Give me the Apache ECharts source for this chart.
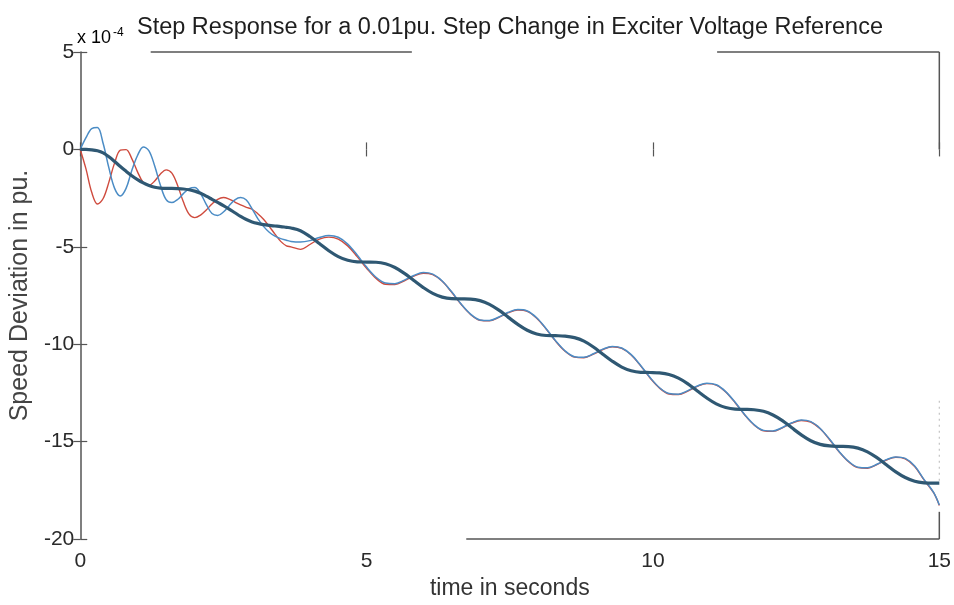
<!DOCTYPE html>
<html><head><meta charset="utf-8">
<script src="https://cdn.jsdelivr.net/npm/echarts@6/dist/echarts.min.js"></script>
<style>html,body{margin:0;padding:0;background:#fff}#c{width:954px;height:605px}</style>
</head><body><div id="c"></div>
<script>
// time in seconds
const time = [0,0.1,0.2,0.3,0.4,0.5,0.6,0.7,0.8,0.9,1,1.1,1.2,1.3,1.4,1.5,1.6,1.7,1.8,1.9,2,2.1,2.2,2.3,2.4,2.5,2.6,2.7,2.8,2.9,3,3.1,3.2,3.3,3.4,3.5,3.6,
3.68,3.845,4.01,4.175,4.34,4.505,4.67,4.835,5.0,5.165,5.33,5.495,5.66,5.825,5.99,6.155,6.32,6.485,6.65,6.815,6.98,7.145,7.31,7.475,7.64,7.805,7.97,8.135,8.3,8.465,8.63,8.795,8.96,9.125,9.29,9.455,9.62,9.785,9.95,10.115,10.28,10.445,10.61,10.775,10.94,11.105,11.27,11.435,11.6,11.765,11.93,12.095,12.26,12.425,12.59,12.755,12.92,13.085,13.25,13.415,13.58,13.745,13.91,14.075,14.24,14.405,14.57,14.735,14.9,15.0];
// speed deviation (x 1e-4 pu)
const thick = [0,0,-0.02,-0.07,-0.18,-0.38,-0.62,-0.88,-1.12,-1.35,-1.55,-1.72,-1.85,-1.94,-1.99,-2.0,-2.0,-2.01,-2.03,-2.07,-2.14,-2.25,-2.4,-2.56,-2.72,-2.88,-3.06,-3.25,-3.44,-3.6,-3.72,-3.8,-3.86,-3.9,-3.93,-3.96,-4.0,
-4.03,-4.17,-4.47,-4.83,-5.2,-5.5,-5.69,-5.77,-5.78,-5.79,-5.87,-6.06,-6.36,-6.73,-7.09,-7.39,-7.58,-7.66,-7.67,-7.68,-7.76,-7.95,-8.25,-8.62,-8.98,-9.28,-9.47,-9.55,-9.56,-9.58,-9.66,-9.84,-10.14,-10.51,-10.87,-11.17,-11.36,-11.44,-11.45,-11.47,-11.55,-11.74,-12.03,-12.4,-12.76,-13.06,-13.25,-13.33,-13.34,-13.36,-13.44,-13.63,-13.92,-14.29,-14.65,-14.95,-15.14,-15.22,-15.24,-15.25,-15.33,-15.52,-15.82,-16.18,-16.55,-16.84,-17.03,-17.11,-17.13,
-17.13];
const blue = [0,0.6,1.07,1.12,0.3,-0.95,-2.0,-2.39,-2.0,-1.08,-0.31,0.13,-0.07,-0.85,-1.84,-2.58,-2.73,-2.57,-2.27,-2.02,-1.96,-2.26,-2.82,-3.29,-3.39,-3.21,-2.89,-2.59,-2.47,-2.6,-3.05,-3.55,-3.95,-4.25,-4.45,-4.58,-4.66,
-4.72,-4.75,-4.68,-4.52,-4.42,-4.51,-4.86,-5.42,-6.04,-6.56,-6.86,-6.89,-6.71,-6.47,-6.32,-6.4,-6.75,-7.31,-7.93,-8.45,-8.75,-8.78,-8.6,-8.36,-8.22,-8.29,-8.64,-9.2,-9.82,-10.34,-10.64,-10.67,-10.49,-10.25,-10.11,-10.19,-10.53,-11.09,-11.71,-12.23,-12.53,-12.56,-12.38,-12.14,-12.0,-12.08,-12.43,-12.98,-13.6,-14.12,-14.42,-14.45,-14.27,-14.03,-13.89,-13.97,-14.32,-14.88,-15.5,-16.01,-16.31,-16.34,-16.16,-15.92,-15.78,-15.86,-16.25,-16.95,-17.6,
-18.25];
const red = [0,-1.0,-2.2,-2.8,-2.52,-1.68,-0.69,-0.04,-0.01,-0.47,-1.15,-1.7,-1.84,-1.62,-1.26,-1.05,-1.22,-1.85,-2.69,-3.32,-3.5,-3.37,-3.11,-2.8,-2.56,-2.47,-2.55,-2.7,-2.85,-2.97,-3.07,-3.3,-3.58,-3.95,-4.35,-4.72,-4.95,
-5.0,-5.13,-4.88,-4.6,-4.5,-4.6,-4.95,-5.5,-6.1,-6.62,-6.92,-6.93,-6.74,-6.5,-6.36,-6.43,-6.77,-7.33,-7.95,-8.47,-8.77,-8.8,-8.62,-8.38,-8.24,-8.31,-8.66,-9.22,-9.84,-10.36,-10.66,-10.69,-10.51,-10.27,-10.13,-10.21,-10.55,-11.11,-11.73,-12.25,-12.55,-12.58,-12.4,-12.16,-12.02,-12.1,-12.45,-13.0,-13.62,-14.14,-14.44,-14.47,-14.29,-14.05,-13.91,-13.99,-14.34,-14.9,-15.52,-16.03,-16.33,-16.36,-16.18,-15.94,-15.8,-15.88,-16.27,-16.97,-17.62,
-18.27];

const xRange = [0, 15], xStep = 5;
const yRange = [-20, 5], yStep = 5;

const FONT = '"Liberation Sans", Arial, Helvetica, sans-serif';
const chart = echarts.init(document.getElementById('c'));
const pair = arr => time.map((t, i) => [t, arr[i]]);
const tickStyle = {inside: true, length: 7, lineStyle: {color: '#555', width: 1.2}};

chart.setOption({
  animation: false,
  backgroundColor: '#ffffff',
  title: {
    text: 'Step Response for a 0.01pu. Step Change in Exciter Voltage Reference',
    left: 132, top: 11,
    textStyle: {fontFamily: FONT, fontSize: 23.5, fontWeight: 'normal', color: '#1e1e1e'}
  },
  grid: {left: 77, right: 14, top: 52, bottom: 58},
  xAxis: [{
    type: 'value', min: xRange[0], max: xRange[1], interval: xStep, position: 'bottom',
    axisLine: {show: false}, axisTick: tickStyle, splitLine: {show: false},
    axisLabel: {fontFamily: FONT, fontSize: 21, color: '#2a2a2a', margin: 12},
    name: 'time in seconds', nameLocation: 'middle', nameGap: 31,
    nameTextStyle: {fontFamily: FONT, fontSize: 23, color: '#333'}
  }, {
    type: 'value', min: xRange[0], max: xRange[1], interval: xStep, position: 'top',
    axisLine: {show: false}, axisTick: tickStyle, splitLine: {show: false}, axisLabel: {show: false}
  }],
  yAxis: [{
    type: 'value', min: yRange[0], max: yRange[1], interval: yStep, position: 'left',
    axisLine: {show: true, lineStyle: {color: '#555', width: 1.5}}, axisTick: tickStyle, splitLine: {show: false},
    axisLabel: {fontFamily: FONT, fontSize: 21, color: '#2a2a2a', margin: 6},
    name: 'Speed Deviation in pu.', nameLocation: 'middle', nameRotate: 90, nameGap: 42,
    nameTextStyle: {fontFamily: FONT, fontSize: 25, color: '#444'}
  }, {
    type: 'value', min: yRange[0], max: yRange[1], interval: yStep, position: 'right',
    axisLine: {show: false}, axisTick: tickStyle, splitLine: {show: false}, axisLabel: {show: false}
  }],
  series: [
    {type: 'line', data: pair(red), showSymbol: false, smooth: 0.35, lineStyle: {color: '#cf4b3e', width: 1.4}, z: 2},
    {type: 'line', data: pair(blue), showSymbol: false, smooth: 0.35, lineStyle: {color: '#4b8cc5', width: 1.5}, z: 3},
    {type: 'line', data: pair(thick), showSymbol: false, smooth: 0.35, lineStyle: {color: '#2f5873', width: 3.2}, z: 4}
  ]
});

// partial frame (as in the scanned original)
const frameSegs = [
  {a: [1.23, 5], b: [5.79, 5]},
  {a: [11.12, 5], b: [15, 5]},
  {a: [15, 5], b: [15, 0]},
  {a: [15, -18.6], b: [15, -20]},
  {a: [6.74, -20], b: [15, -20]},
  {a: [15, -12.9], b: [15, -17.1], faint: true}
];
const px = p => chart.convertToPixel({xAxisIndex: 0, yAxisIndex: 0}, p);
const graphics = frameSegs.map(s => {
  const A = px(s.a), B = px(s.b);
  return {type: 'line', shape: {x1: A[0], y1: A[1], x2: B[0], y2: B[1]},
    style: s.faint ? {stroke: '#c4c4c4', lineWidth: 1.2, lineDash: [2, 4]} : {stroke: '#555', lineWidth: 1.5}, z: 10};
});
graphics.push({
  type: 'text', left: 77, top: 27, z: 10,
  style: {
    text: '{a|x 10}{b|-4}',
    rich: {
      a: {fontFamily: FONT, fontSize: 18, color: '#222', lineHeight: 22},
      b: {fontFamily: FONT, fontSize: 12, color: '#222', verticalAlign: 'top', lineHeight: 14, padding: [0, 0, 0, 2]}
    }
  }
});
chart.setOption({graphic: graphics});
</script>
</body></html>
